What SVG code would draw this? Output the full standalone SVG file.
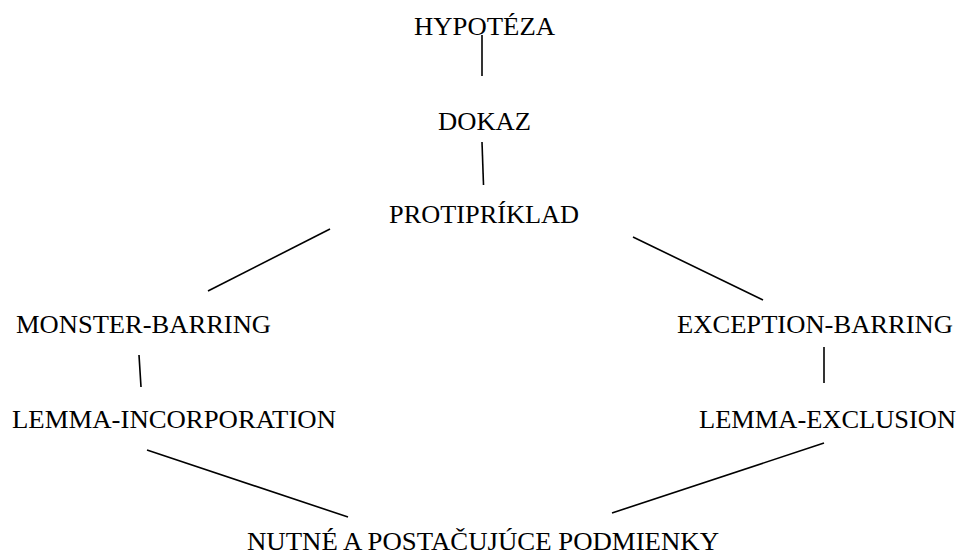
<svg xmlns="http://www.w3.org/2000/svg" width="960" height="556" viewBox="0 0 960 556">
  <style>
    .lbl { font-family: "Liberation Serif", "Times New Roman", serif; font-size: 26px; fill: #000; }
    .edge { stroke: #000; stroke-width: 1.6; fill: none; stroke-linecap: butt; }
  </style>
  <rect width="960" height="556" fill="#fff"/>

  <g id="connectors">
    <line class="edge" x1="482" y1="35" x2="482" y2="76"/>
    <line class="edge" x1="482" y1="142" x2="483.5" y2="185"/>
    <line class="edge" x1="330" y1="229" x2="208" y2="291"/>
    <line class="edge" x1="633" y1="237" x2="763" y2="300"/>
    <line class="edge" x1="139" y1="355" x2="141" y2="387"/>
    <line class="edge" x1="824" y1="347" x2="824" y2="383"/>
    <line class="edge" x1="147" y1="450" x2="348" y2="517"/>
    <line class="edge" x1="824" y1="443" x2="612" y2="513"/>
  </g>

  <g id="hypoteza"><text class="lbl" x="414" y="35" textLength="141" lengthAdjust="spacingAndGlyphs">HYPOTÉZA</text></g>
  <g id="dokaz"><text class="lbl" x="438" y="130" textLength="93" lengthAdjust="spacingAndGlyphs">DOKAZ</text></g>
  <g id="protipriklad"><text class="lbl" x="389" y="223" textLength="190" lengthAdjust="spacingAndGlyphs">PROTIPRÍKLAD</text></g>
  <g id="monster-barring"><text class="lbl" x="16" y="333" textLength="255" lengthAdjust="spacingAndGlyphs">MONSTER-BARRING</text></g>
  <g id="exception-barring"><text class="lbl" x="677" y="333" textLength="276" lengthAdjust="spacingAndGlyphs">EXCEPTION-BARRING</text></g>
  <g id="lemma-incorporation"><text class="lbl" x="12" y="428" textLength="324" lengthAdjust="spacingAndGlyphs">LEMMA-INCORPORATION</text></g>
  <g id="lemma-exclusion"><text class="lbl" x="699" y="428" textLength="257" lengthAdjust="spacingAndGlyphs">LEMMA-EXCLUSION</text></g>
  <g id="nutne-podmienky"><text class="lbl" x="247" y="550" textLength="472" lengthAdjust="spacingAndGlyphs">NUTNÉ A POSTAČUJÚCE PODMIENKY</text></g>
</svg>
